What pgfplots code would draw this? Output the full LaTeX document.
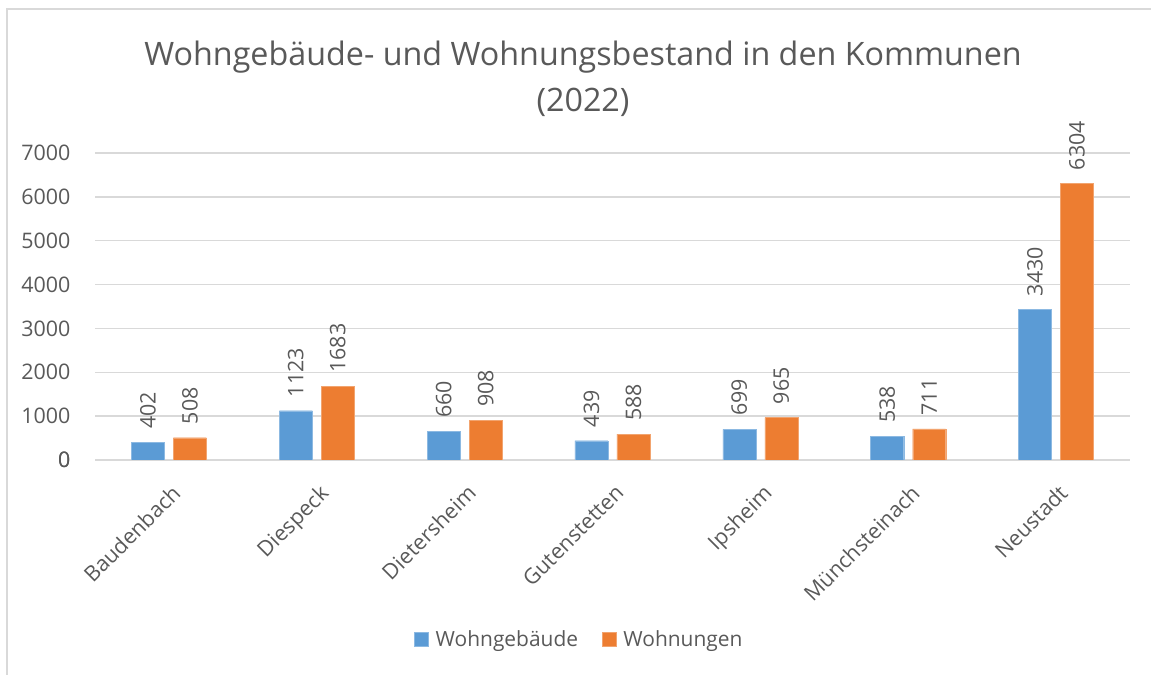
\documentclass[border=0pt]{standalone}
\usepackage{pgfplots}
\pgfplotsset{compat=1.18}
\usepackage{fontspec}
\setmainfont{Open Sans}
\definecolor{txt}{HTML}{595959}
\definecolor{grd}{HTML}{D9D9D9}
\definecolor{cblue}{HTML}{5B9BD5}
\definecolor{corange}{HTML}{ED7D31}
\begin{document}
\begin{tikzpicture}
\useasboundingbox (0,0) rectangle (1151bp,675bp);
\draw[grd, line width=2bp] (7bp,0) -- (7bp,666bp) -- (1151bp,666bp);
\node[txt, align=center, font=\fontsize{32.4}{46}\selectfont] at (583bp,596bp) {Wohngebäude- und Wohnungsbestand in den Kommunen\\(2022)};
\begin{axis}[
  at={(95bp,215bp)}, anchor=south west,
  scale only axis, width=1035bp, height=307bp,
  ymin=0, ymax=7000, ytick={0,1000,...,7000},
  xmin=-0.5, xmax=6.5, xtick={0,...,6},
  xticklabels={Baudenbach,Diespeck,Dietersheim,Gutenstetten,Ipsheim,Münchsteinach,Neustadt},
  axis line style={draw=none},
  major tick length=0pt,
  ymajorgrids, grid style={grd, line width=1.5bp},
  extra y ticks={0}, extra y tick style={grid style={grd, line width=2bp}},
  /pgf/number format/assume math mode=true,
  /pgf/number format/1000 sep={},
  yticklabel style={txt, font=\fontsize{21.5}{24}\selectfont, xshift=-21bp},
  xticklabel style={txt, font=\fontsize{21.5}{24}\selectfont, rotate=45, anchor=north east, xshift=-12bp, yshift=-14bp},
  ybar, bar width=33bp,
  nodes near coords,
  every node near coord/.append style={txt, font=\fontsize{21.5}{24}\selectfont, yshift=10bp, rotate=90, anchor=west},
  legend style={at={(0.468,-0.585)}, anchor=center, draw=none, legend columns=2, font=\fontsize{21}{24}\selectfont, text=txt,
    /tikz/every even column/.append style={column sep=22bp}},
  legend image code/.code={\fill[#1] (0bp,-7bp) rectangle (14bp,7bp); \path (19bp,0bp);},
]
\addplot[fill=cblue, draw=cblue!70!white, bar shift=-21bp] coordinates {(0,402) (1,1123) (2,660) (3,439) (4,699) (5,538) (6,3430)};
\addplot[fill=corange, draw=corange!70!white, bar shift=21bp] coordinates {(0,508) (1,1683) (2,908) (3,588) (4,965) (5,711) (6,6304)};
\legend{Wohngebäude,Wohnungen}
\end{axis}
\end{tikzpicture}
\end{document}
